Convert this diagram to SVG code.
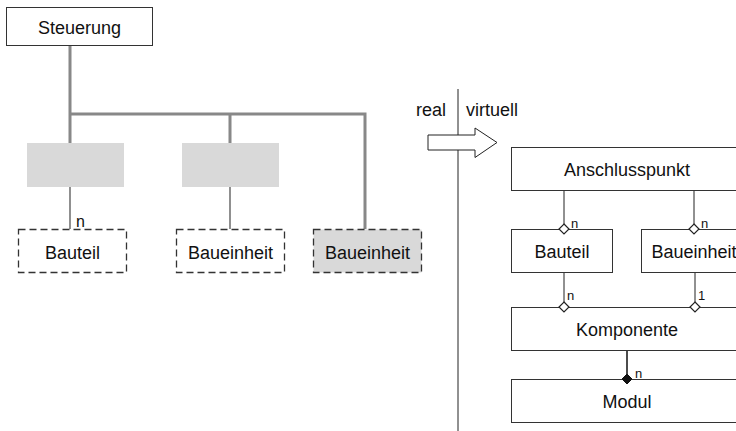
<svg xmlns="http://www.w3.org/2000/svg" width="736" height="431" viewBox="0 0 736 431">
  <style>
    text { font-family: "Liberation Sans", Arial, sans-serif; fill: #111; }
    .lbl { font-size: 18px; text-anchor: middle; }
    .mult { font-size: 13px; }
    .box { fill: #fff; stroke: #333; stroke-width: 1; }
    .dash { fill: #fff; stroke: #333; stroke-width: 1.3; stroke-dasharray: 7 4; }
    .bus { fill: none; stroke: #888; stroke-width: 3; }
    .thin { fill: none; stroke: #555; stroke-width: 1.3; }
    .line { fill: none; stroke: #222; stroke-width: 1; }
    .slot { fill: #d9d9d9; stroke: none; }
  </style>
  <defs>
    <path id="odiamond" d="M0,-5 L5,0 L0,5 L-5,0 Z" fill="#fff" stroke="#222" stroke-width="1.2"/>
    <path id="fdiamond" d="M0,-5 L5,0 L0,5 L-5,0 Z" fill="#111" stroke="#111" stroke-width="1"/>
  </defs>
  <rect width="736" height="431" fill="#fff"/>

  <!-- connectors -->
  <g id="connectors">
    <path class="bus" d="M70,46 V143 M70,114 H365 V229 M230,114 V143"/>
    <path class="thin" d="M70,187 V229 M230,187 V229"/>
    <line class="line" x1="458" y1="89" x2="458" y2="431"/>
    <path d="M428,135 H475 V128 L497,142.5 L475,157.5 V150 H428 Z" fill="#fff" stroke="#222" stroke-width="1"/>
    <path class="line" d="M564,191 V229 M694,191 V229 M564,273 V307 M695,273 V307"/>
    <path d="M627,350 V379" stroke="#111" stroke-width="1.5" fill="none"/>
  </g>

  <!-- real side -->
  <g id="steuerung">
    <rect class="box" x="6.5" y="7.5" width="146" height="38"/>
    <text class="lbl" x="79.5" y="34">Steuerung</text>
  </g>
  <g id="slot1"><rect class="slot" x="27" y="143" width="97" height="44"/></g>
  <g id="slot2"><rect class="slot" x="182" y="143" width="97" height="44"/></g>
  <g id="bauteil-real">
    <rect class="dash" x="18.5" y="229.5" width="108" height="43"/>
    <text class="lbl" x="72.5" y="259">Bauteil</text>
    <text x="76" y="226.5" style="font-size:16px">n</text>
  </g>
  <g id="baueinheit-real-1">
    <rect class="dash" x="176.5" y="229.5" width="108" height="43"/>
    <text class="lbl" x="230.5" y="259">Baueinheit</text>
  </g>
  <g id="baueinheit-real-2">
    <rect class="dash" x="313.5" y="229.5" width="108" height="43" style="fill:#d9d9d9"/>
    <text class="lbl" x="367.5" y="259">Baueinheit</text>
  </g>

  <!-- side labels -->
  <g id="labels">
    <text x="416" y="116" style="font-size:18px">real</text>
    <text x="466" y="116" style="font-size:18px">virtuell</text>
  </g>

  <!-- virtual side -->
  <g id="anschlusspunkt">
    <rect class="box" x="511.5" y="147.5" width="232" height="43"/>
    <text class="lbl" x="627" y="176">Anschlusspunkt</text>
  </g>
  <g id="bauteil-virt">
    <rect class="box" x="511.5" y="229.5" width="101" height="43"/>
    <text class="lbl" x="562" y="257.5">Bauteil</text>
    <use href="#odiamond" x="564" y="229"/>
    <text class="mult" x="571" y="227.5">n</text>
  </g>
  <g id="baueinheit-virt">
    <rect class="box" x="641.5" y="229.5" width="104" height="43"/>
    <text class="lbl" x="694" y="257.5">Baueinheit</text>
    <use href="#odiamond" x="694" y="229"/>
    <text class="mult" x="701" y="227.5">n</text>
  </g>
  <g id="komponente">
    <rect class="box" x="511.5" y="307.5" width="232" height="43"/>
    <text class="lbl" x="627" y="335.5">Komponente</text>
    <use href="#odiamond" x="564" y="307"/>
    <text class="mult" x="567" y="299.5">n</text>
    <use href="#odiamond" x="695" y="307"/>
    <text class="mult" x="698" y="299.5">1</text>
  </g>
  <g id="modul">
    <rect class="box" x="511.5" y="379.5" width="232" height="43"/>
    <text class="lbl" x="627" y="407.5">Modul</text>
    <use href="#fdiamond" x="627" y="379"/>
    <text class="mult" x="635" y="377.5">n</text>
  </g>
</svg>
